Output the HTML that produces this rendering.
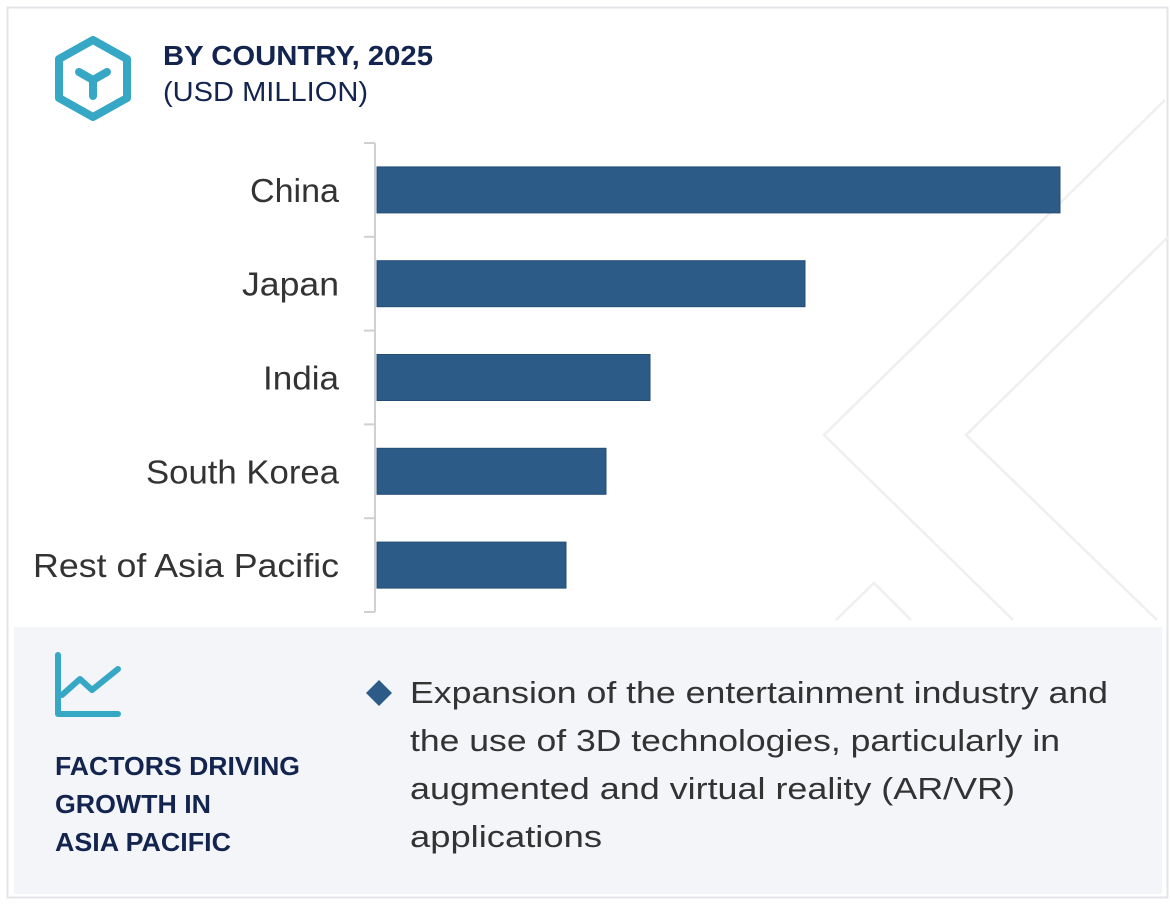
<!DOCTYPE html>
<html><head><meta charset="utf-8"><style>
body{margin:0;width:1170px;height:904px;background:#fff;font-family:"Liberation Sans",sans-serif;overflow:hidden}
</style></head><body>
<svg width="1170" height="904" id="svg">
<rect x="7.5" y="7.5" width="1160" height="890" fill="#fff" stroke="#e3e4e8" stroke-width="2"/>
<g fill="none" stroke="#efefef" stroke-width="2.5">
<polyline points="1165,100 824,435 1013,620"/>
<polyline points="1168,237 966,435 1157,620"/>
<polyline points="836,620 874,583 911,620"/>
</g>
<g>
<polygon points="93,40 127,59 127,98 93,117 59,98 59,59" fill="none" stroke="#37a7c6" stroke-width="8" stroke-linejoin="round"/>
<path d="M79,72 L93,80 L107,72 M93,80 L93,96" fill="none" stroke="#37a7c6" stroke-width="8" stroke-linecap="round"/>
</g>
<text x="163" y="65" font-size="28" font-weight="bold" fill="#13254f" textLength="270" lengthAdjust="spacingAndGlyphs">BY COUNTRY, 2025</text>
<text x="163" y="101" font-size="28" fill="#13254f" textLength="205" lengthAdjust="spacingAndGlyphs">(USD MILLION)</text>
<g id="plot"></g>
<rect x="14" y="627" width="1148" height="267" fill="#f3f5f9"/>
<path d="M58,655 L58,714 L118,714 M62,695 L80,679 L92,690 L118,669" fill="none" stroke="#37a7c6" stroke-width="6" stroke-linecap="round" stroke-linejoin="round"/>
<g font-size="26" font-weight="bold" fill="#13254f" lengthAdjust="spacingAndGlyphs">
<text x="55" y="775" textLength="245" lengthAdjust="spacingAndGlyphs">FACTORS DRIVING</text>
<text x="55" y="813" textLength="156" lengthAdjust="spacingAndGlyphs">GROWTH IN</text>
<text x="55" y="851" textLength="176" lengthAdjust="spacingAndGlyphs">ASIA PACIFIC</text>
</g>
<polygon points="379,680 392,693 379,706 366,693" fill="#2c5b88"/>
<g font-size="31" fill="#333">
<text x="410" y="703" textLength="698" lengthAdjust="spacingAndGlyphs">Expansion of the entertainment industry and</text>
<text x="410" y="751" textLength="650" lengthAdjust="spacingAndGlyphs">the use of 3D technologies, particularly in</text>
<text x="410" y="799" textLength="605" lengthAdjust="spacingAndGlyphs">augmented and virtual reality (AR/VR)</text>
<text x="410" y="847" textLength="192" lengthAdjust="spacingAndGlyphs">applications</text>
</g>
</svg>
<script>
const categories=["China","Japan","India","South Korea","Rest of Asia Pacific"];
const values=[68.3,42.8,27.3,22.9,18.9];
const xMax=68.3;
const labelWidths=[89,97,76,193,306];
const ns="http://www.w3.org/2000/svg";
const plot=document.getElementById("plot");
const x0=377,x1=1060,yTop=143,yBot=612;
const band=(yBot-yTop)/categories.length;
const xs=v=>x0+(v/xMax)*(x1-x0);
function mk(t,a){const e=document.createElementNS(ns,t);for(const k in a)e.setAttribute(k,a[k]);plot.appendChild(e);return e;}
const axis=mk("line",{x1:375,y1:yTop,x2:375,y2:yBot,stroke:"#d0d0d0","stroke-width":2});


for(let i=0;i<=categories.length;i++){
  const y=yTop+i*band;
  const t=mk("line",{x1:364,y1:y,x2:375,y2:y,stroke:"#d0d0d0","stroke-width":2});
  
  
}
categories.forEach((c,i)=>{
  const yc=yTop+band*(i+0.5);
  const r=mk("rect",{x:x0,y:yc-23,width:xs(values[i])-x0,height:46,fill:"#2c5b88",stroke:"#244d75","stroke-width":1});
  
  
  const l=mk("text",{x:339,y:yc+12,"text-anchor":"end","font-size":33,fill:"#333",textLength:labelWidths[i],lengthAdjust:"spacingAndGlyphs"});
  l.textContent=c;
  
  
});
</script>
</body></html>
